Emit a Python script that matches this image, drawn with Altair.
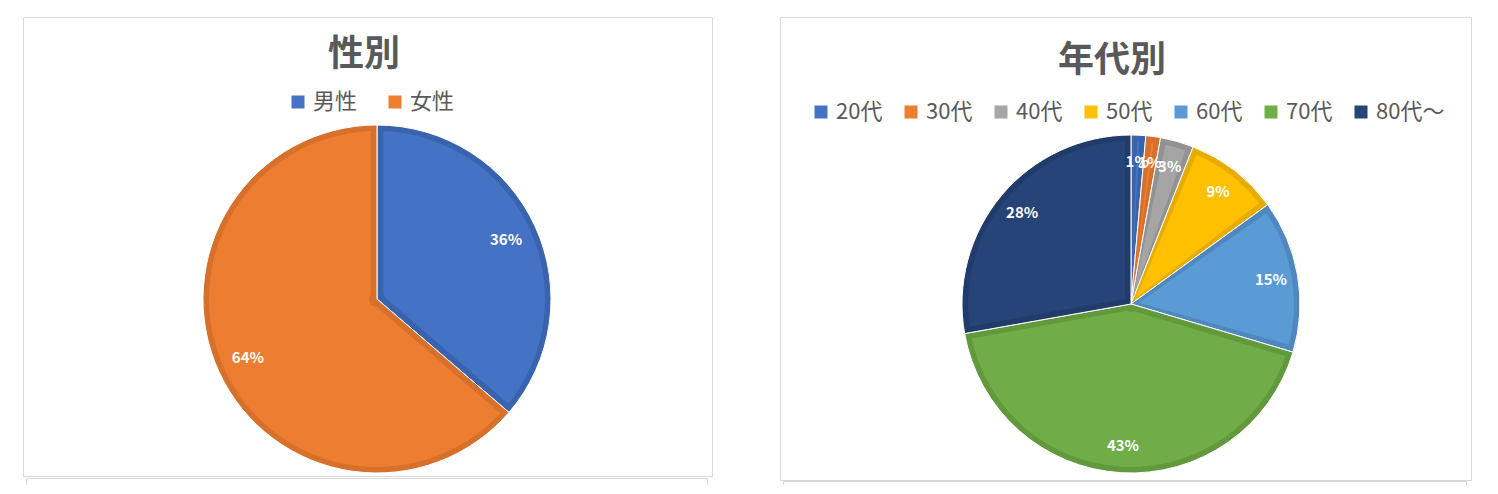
import altair as alt
import pandas as pd

FONT = "Noto Sans CJK JP"
TXT = "#595959"

# --- data ---
gender_labels = ["男性", "女性"]
gender_values = [36.3, 63.7]
gender_colors = ["#4472C4", "#ED7D31"]
gender_dark = ["#3A63AE", "#D6702A"]

age_labels = ["20代", "30代", "40代", "50代", "60代", "70代", "80代～"]
age_values = [1.4, 1.4, 3.2, 9.0, 14.6, 42.6, 27.8]
age_colors = ["#4472C4", "#ED7D31", "#A5A5A5", "#FFC000", "#5B9BD5", "#70AD47", "#264478"]
age_dark = ["#3A63AE", "#D6702A", "#929292", "#E6AC00", "#4F88BE", "#62993D", "#213C6B"]


def panel(title, labels, values, colors, dark, W, H, bw, bh, cx, cy, R,
          title_x, title_y, leg_x, leg_y, col_pad, low_y, low_x2):
    df = pd.DataFrame({"label": labels, "value": values, "idx": list(range(len(labels)))})
    dark_expr = "[" + ",".join("'%s'" % c for c in dark) + "][datum.idx]"
    base = alt.Chart(df).transform_calculate(
        pct="format(datum.value, '.0f') + '%'",
        dk=dark_expr,
    ).encode(
        theta=alt.Theta("value:Q", stack=True),
        order=alt.Order("idx:Q"),
    )
    dark_arc = base.mark_arc(radius=R, stroke="white", strokeWidth=1).encode(
        fill=alt.Fill("dk:N", scale=None),
        x=alt.value(cx), y=alt.value(cy),
    )
    main_arc = base.mark_arc(radius=R - 6, radius2=8, padAngle=0.074).encode(
        color=alt.Color(
            "label:N",
            scale=alt.Scale(domain=labels, range=colors),
            sort=labels,
            legend=alt.Legend(
                title=None, orient="none", direction="horizontal",
                legendX=leg_x, legendY=leg_y,
                symbolType="square", symbolSize=169, symbolStrokeWidth=0,
                labelFont=FONT, labelFontSize=22, labelColor=TXT,
                labelOffset=4, columnPadding=col_pad, padding=0,
                columns=len(labels),
            ),
        ),
        x=alt.value(cx), y=alt.value(cy),
    )
    txt = base.mark_text(radius=142, font=FONT, fontSize=15, fontWeight="bold",
                         color="white").encode(
        text="pct:N", x=alt.value(cx), y=alt.value(cy),
    )
    one = alt.Data(values=[{"t": title}])
    border = alt.Chart(one).mark_rect(fill="white", stroke="#D9D9D9", strokeWidth=1).encode(
        x=alt.value(0.5), x2=alt.value(bw + 0.5), y=alt.value(0.5), y2=alt.value(bh + 0.5)
    )
    lower = alt.Chart(one).mark_rect(fill="white", stroke="#D9D9D9", strokeWidth=1,
                                     clip=True).encode(
        x=alt.value(3.5), x2=alt.value(low_x2 + 0.5), y=alt.value(low_y + 0.5), y2=alt.value(low_y + 80)
    )
    ttl = alt.Chart(one).mark_text(font=FONT, fontSize=36, fontWeight="bold", color=TXT,
                                   baseline="middle", align="center").encode(
        text="t:N", x=alt.value(title_x), y=alt.value(title_y)
    )
    return alt.layer(border, lower, ttl, dark_arc, main_arc, txt).properties(width=W, height=H)


left = panel("性別", gender_labels, gender_values, gender_colors, gender_dark,
             W=690, H=468, bw=689, bh=459, cx=354, cy=282, R=174,
             title_x=341, title_y=38, leg_x=264, leg_y=74, col_pad=26,
             low_y=461, low_x2=684)
right = panel("年代別", age_labels, age_values, age_colors, age_dark,
              W=692, H=468, bw=691, bh=463, cx=351, cy=287, R=169,
              title_x=332, title_y=44, leg_x=30, leg_y=84, col_pad=17,
              low_y=464, low_x2=686)

chart = alt.hconcat(left, right, spacing=67).resolve_scale(
    color="independent", theta="independent"
).resolve_legend(color="independent").properties(
    padding={"left": 15, "top": 9, "right": 0, "bottom": 0},
    background="white",
).configure_view(stroke=None)

chart.save("out.html", embed_options={"renderer": "svg", "actions": False})
